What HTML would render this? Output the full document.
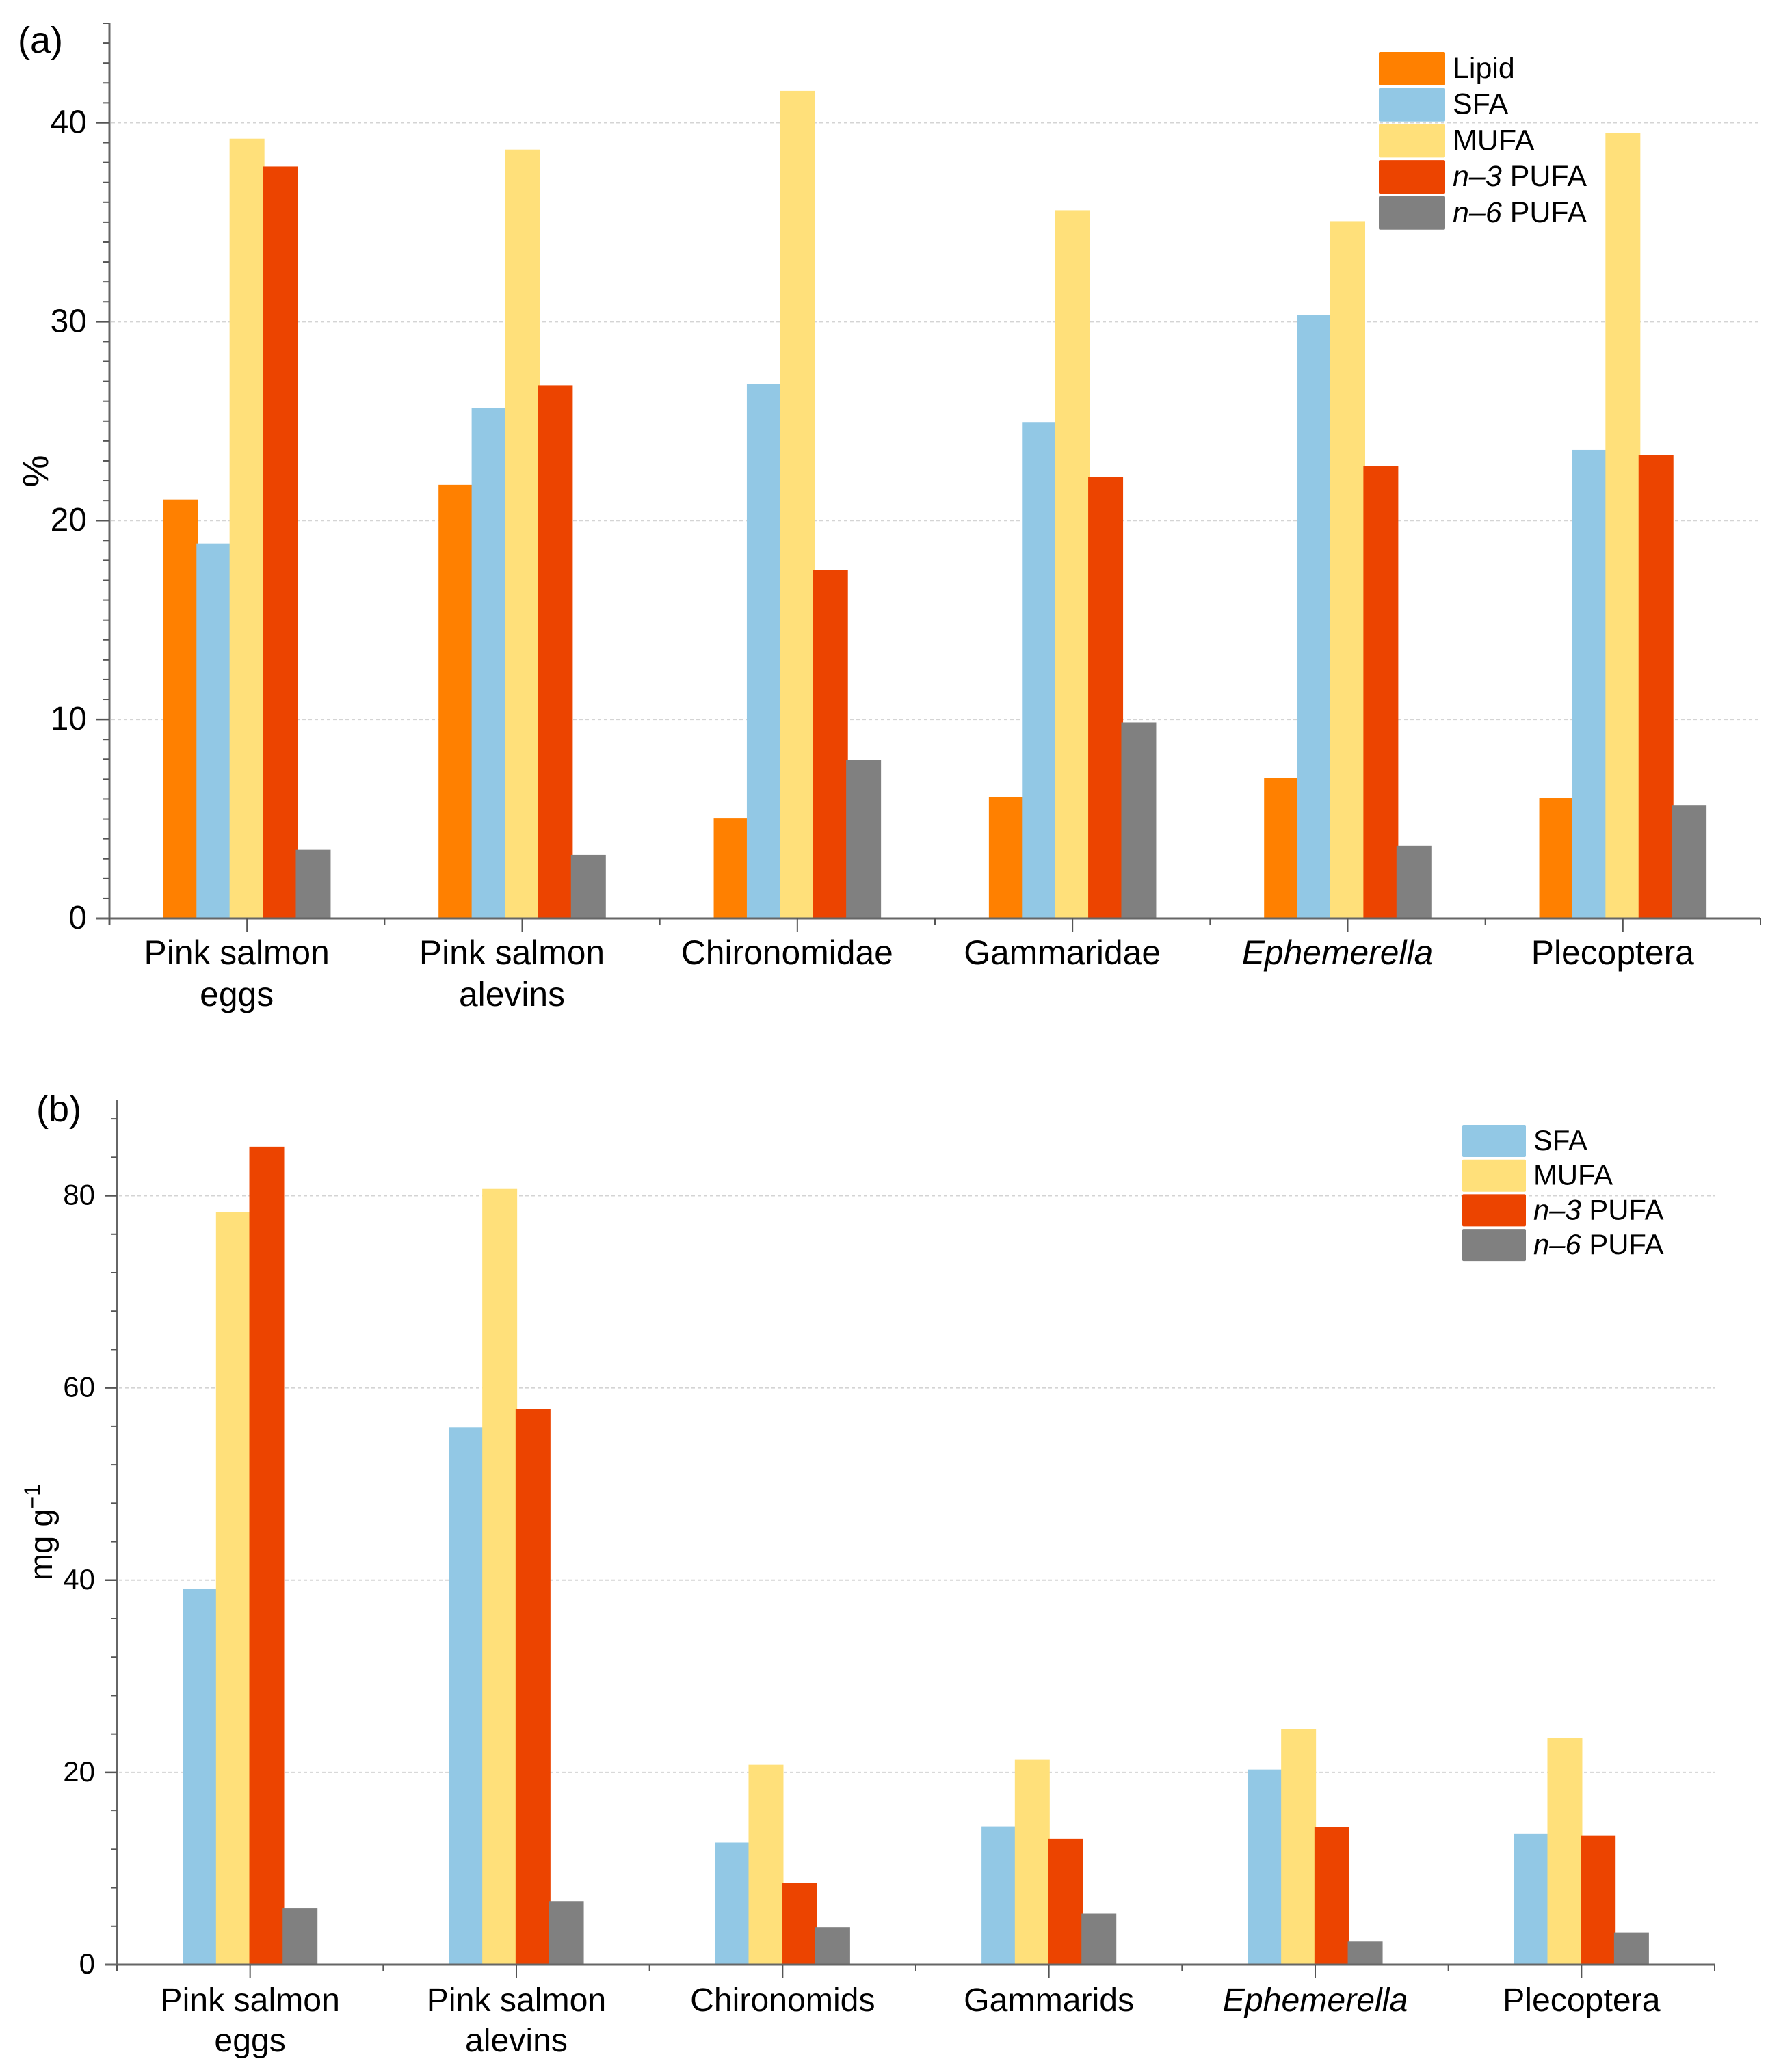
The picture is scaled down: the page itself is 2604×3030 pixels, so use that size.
<!DOCTYPE html>
<html lang="en">
<head>
<meta charset="utf-8">
<title>Fatty acid composition chart</title>
<style>
html,body{margin:0;padding:0;background:#fff;}
svg{display:block;font-family:"Liberation Sans",Arial,sans-serif;}
</style>
</head>
<body>
<svg id="chart" xmlns="http://www.w3.org/2000/svg" width="2604" height="3030" viewBox="0 0 2604 3030">
<rect width="2604" height="3030" fill="#fff"/>
</svg>
<script>
// ---------- Panel (a) data ----------
const categoriesA = [['Pink salmon','eggs'],['Pink salmon','alevins'],['Chironomidae'],['Gammaridae'],['Ephemerella'],['Plecoptera']];
const yTicksA = [0,10,20,30,40];
const lipidA = [21.05,21.8,5.05,6.1,7.05,6.05];
const sfaA   = [18.85,25.65,26.85,24.95,30.35,23.55];
const mufaA  = [39.2,38.65,41.6,35.6,35.05,39.5];
const n3A    = [37.8,26.8,17.5,22.2,22.75,23.3];
const n6A    = [3.45,3.2,7.95,9.85,3.65,5.7];

// ---------- Panel (b) data ----------
const categoriesB = [['Pink salmon','eggs'],['Pink salmon','alevins'],['Chironomids'],['Gammarids'],['Ephemerella'],['Plecoptera']];
const yTicksB = [0,20,40,60,80];
const sfaB  = [39.1,55.9,12.7,14.4,20.3,13.6];
const mufaB = [78.3,80.7,20.8,21.3,24.5,23.6];
const n3B   = [85.1,57.8,8.5,13.1,14.3,13.4];
const n6B   = [5.9,6.6,3.9,5.3,2.4,3.3];

// ---------- Series labels ----------
const labelsA = ['Lipid','SFA','MUFA','n–3 PUFA','n–6 PUFA'];
const labelsB = ['SFA','MUFA','n–3 PUFA','n–6 PUFA'];

const COLORS = {'Lipid':'#FF8000','SFA':'#92C8E5','MUFA':'#FFE07A','n–3 PUFA':'#EC4400','n–6 PUFA':'#808080'};
const NS = 'http://www.w3.org/2000/svg';
const root = document.getElementById('chart');

function mk(parent, tag, attrs, text){
  const el = document.createElementNS(NS, tag);
  for (const k in attrs) el.setAttribute(k, attrs[k]);
  if (text !== undefined) el.textContent = text;
  parent.appendChild(el);
  return el;
}
function slug(s){ return s.toLowerCase().replace(/–/g,'-').replace(/[^a-z0-9]+/g,'-').replace(/^-|-$/g,''); }

function drawPanel(p){
  const g = mk(root,'g',{});
  
  

  const y = v => p.y0 - (v / p.yMax) * (p.y0 - p.yTop);
  const step = (p.x1 - p.x0) / p.categories.length;
  const cx = i => p.x0 + step * (i + 0.5);

  // gridlines
  p.yTicks.forEach(v => {
    if (v === 0) return;
    const gl = mk(g,'line',{x1:p.x0+3,x2:p.x1,y1:y(v),y2:y(v),stroke:'#d4d4d4','stroke-width':2,'stroke-dasharray':'5 4'});
    
    
  });

  // bars
  const n = p.series.length;
  p.series.forEach((vals, s) => {
    vals.forEach((v, i) => {
      const left = cx(i) - (p.pitch * (n - 1) + p.barW) / 2 + s * p.pitch;
      const r = mk(g,'rect',{x:left,y:y(v),width:p.barW,height:p.y0 - y(v),fill:COLORS[p.labels[s]]});
      
      
    });
  });

  // y axis
  const ya = mk(g,'line',{x1:p.x0,x2:p.x0,y1:p.yTop,y2:p.y0+10,stroke:'#666',  'stroke-width':3});
  
  

  for (let v = 0; v <= p.yMax + 1e-6; v += p.yMinor){
    const major = v % p.yMajor === 0;
    const len = major ? p.yMajorLen : p.yMinorLen;
    const t = mk(g,'line',{x1:p.x0-len,x2:p.x0,y1:y(v),y2:y(v),stroke:'#555','stroke-width':major?2.5:2});
    
    
  }
  p.yTicks.forEach(v => {
    const t = mk(g,'text',{x:p.yLabelX,y:y(v)+p.yLabelDy,'text-anchor':'end','font-size':p.yFont,fill:'#000'}, String(v));
    
    
  });

  // x axis
  const xa = mk(g,'line',{x1:p.x0-p.yMajorLen,x2:p.x1,y1:p.y0,y2:p.y0,stroke:'#666','stroke-width':3});
  
  

  for (let k = 0; k <= p.categories.length * 2; k++){
    const major = k % 2 === 1;
    const xx = p.x0 + k * step / 2;
    const t = mk(g,'line',{x1:xx,x2:xx,y1:p.y0,y2:p.y0+(major?20:10),stroke:'#555','stroke-width':2});
    
    
  }
  p.categories.forEach((lines, i) => {
    lines.forEach((line, j) => {
      const attrs = {x:cx(i)+p.xLabelDx,y:p.xLabelY + j * p.xLineH,'text-anchor':'middle','font-size':p.xFont,fill:'#000'};
      if (line === 'Ephemerella') attrs['font-style'] = 'italic';
      const t = mk(g,'text',attrs,line);
      
      
    });
  });

  // legend
  p.labels.forEach((lab, i) => {
    const top = p.legY + i * p.legStep;
    const sw = mk(g,'rect',{x:p.legX,y:top,width:p.legW,height:p.legH,rx:2,fill:COLORS[lab]});
    
    
    const t = mk(g,'text',{x:p.legTextX,y:top+p.legTextDy,'font-size':p.legFont,fill:'#000'});
    
    
    if (lab.indexOf('–') > 0){
      const parts = lab.split(' ');
      mk(t,'tspan',{'font-style':'italic'},parts[0]);
      mk(t,'tspan',{},' ' + parts[1]);
    } else {
      t.textContent = lab;
    }
  });

  // panel letter
  const letter = mk(g,'text',{x:p.letterX,y:p.letterY,'font-size':54,fill:'#000'},'(' + p.id + ')');
  
  
}

drawPanel({
  id:'a', categories:categoriesA, labels:labelsA, yTicks:yTicksA,
  series:[lipidA,sfaA,mufaA,n3A,n6A],
  x0:160, x1:2574, y0:1343, yTop:34, yMax:45, yMinor:1, yMajor:10, yMajorLen:19, yMinorLen:9,
  barW:51, pitch:48.4, yFont:48, yLabelX:127, yLabelDy:15,
  xFont:49.8, xLabelDx:-15, xLabelY:1410, xLineH:61,
  legX:2016, legY:76, legW:97, legH:49, legStep:52.7, legTextX:2124, legTextDy:38, legFont:43,
  letterX:26, letterY:77
});

drawPanel({
  id:'b', categories:categoriesB, labels:labelsB, yTicks:yTicksB,
  series:[sfaB,mufaB,n3B,n6B],
  x0:171, x1:2507, y0:2873, yTop:1608, yMax:90, yMinor:4, yMajor:20, yMajorLen:18, yMinorLen:9,
  barW:51, pitch:48.7, yFont:42, yLabelX:139, yLabelDy:13,
  xFont:48.2, xLabelDx:0, xLabelY:2941, xLineH:59,
  legX:2138, legY:1645, legW:93, legH:47, legStep:50.7, legTextX:2242, legTextDy:37, legFont:41.8,
  letterX:53, letterY:1640
});

// y-axis titles
const titleA = mk(root,'text',{transform:'translate(70,689) rotate(-90)','text-anchor':'middle','font-size':53,fill:'#000'},'%');



const titleB = mk(root,'text',{transform:'translate(76,2311) rotate(-90)','font-size':47,fill:'#000'},'mg g');


mk(titleB,'tspan',{dy:-18,'font-size':32},'−1');
</script>
</body>
</html>
